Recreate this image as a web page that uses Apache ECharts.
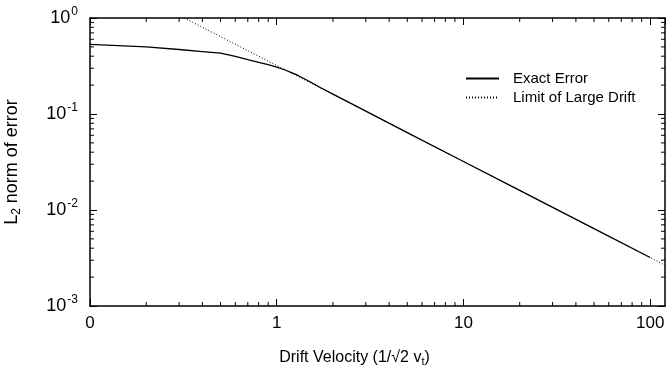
<!DOCTYPE html>
<html>
<head>
<meta charset="utf-8">
<script src="https://cdn.jsdelivr.net/npm/echarts@6/dist/echarts.min.js"></script>
<style>
  html, body { margin: 0; padding: 0; background: #fff; }
  #chart { width: 666px; height: 369px; }
</style>
</head>
<body>
<div id="chart"></div>
<script>
// drift velocity (x) and L2 error (y)
const exactV = [0.1, 0.2, 0.3, 0.4, 0.5, 0.6, 0.7, 0.8, 0.9, 1.0, 1.1, 1.2, 1.3, 1.5, 1.7, 2, 3, 5, 10, 20, 50, 100]
const exactErr = [0.53, 0.5, 0.47, 0.447, 0.43, 0.398, 0.368, 0.345, 0.326, 0.308, 0.289, 0.27, 0.252, 0.218, 0.19, 0.161, 0.107, 0.064, 0.032, 0.016, 0.0064, 0.0032]
const limitV = [0.32, 120]
const limitErr = [1.0, 0.00266]

// axis ranges and minor tick values
const xMin = 0.1, xMax = 120
const yMin = 0.001, yMax = 1
const xMinor = [0.2, 0.3, 0.4, 0.5, 0.6, 0.7, 0.8, 0.9, 2, 3, 4, 5, 6, 7, 8, 9, 20, 30, 40, 50, 60, 70, 80, 90]
const yMinor = [0.002, 0.003, 0.004, 0.005, 0.006, 0.007, 0.008, 0.009,
  0.02, 0.03, 0.04, 0.05, 0.06, 0.07, 0.08, 0.09,
  0.2, 0.3, 0.4, 0.5, 0.6, 0.7, 0.8, 0.9]

const font = 'Liberation Sans, Arial, Helvetica, sans-serif'
const chart = echarts.init(document.getElementById('chart'))

const zip = (a, b) => a.map((v, i) => [v, b[i]])

const minorX = (params, api) => {
  const cs = params.coordSys
  const p = api.coord([api.value(0), yMin])
  const st = { stroke: '#000', lineWidth: 1 }
  return { type: 'group', children: [
    { type: 'line', shape: { x1: p[0], y1: cs.y + cs.height, x2: p[0], y2: cs.y + cs.height - 4 }, style: st },
    { type: 'line', shape: { x1: p[0], y1: cs.y, x2: p[0], y2: cs.y + 4 }, style: st }
  ] }
}
const minorY = (params, api) => {
  const cs = params.coordSys
  const p = api.coord([xMin, api.value(1)])
  const st = { stroke: '#000', lineWidth: 1 }
  return { type: 'group', children: [
    { type: 'line', shape: { x1: cs.x, y1: p[1], x2: cs.x + 4, y2: p[1] }, style: st },
    { type: 'line', shape: { x1: cs.x + cs.width, y1: p[1], x2: cs.x + cs.width - 4, y2: p[1] }, style: st }
  ] }
}

const axisCommon = {
  axisLine: { show: true, lineStyle: { color: '#000', width: 1.5 } },
  axisTick: { show: true, inside: true, length: 7, lineStyle: { color: '#000', width: 1 } },
  splitLine: { show: false }
}

chart.setOption({
  animation: false,
  backgroundColor: '#fff',
  grid: { left: 90, right: 1, top: 18, bottom: 63, containLabel: false, outerBoundsMode: 'none' },
  legend: {
    orient: 'vertical',
    left: 460,
    top: 66,
    itemWidth: 33,
    itemHeight: 10,
    itemGap: 4,
    data: ['Exact Error', 'Limit of Large Drift'],
    itemStyle: { opacity: 0 },
    textStyle: { fontFamily: font, fontSize: 15, color: '#000', padding: [0, 0, 0, 9] }
  },
  xAxis: [
    {
      type: 'log', logBase: 10, min: xMin, max: xMax, position: 'bottom',
      ...axisCommon,
      axisLabel: {
        fontFamily: font, fontSize: 17, color: '#000', margin: 9,
        formatter: v => Math.round(Math.log10(v)) === -1 ? '0' : String(Math.round(v))
      },
      name: '{a|Drift Velocity (1/√2 v}{s|t}{a|)}',
      nameLocation: 'middle',
      nameGap: 42,
      nameTextStyle: {
        padding: [0, 46, 0, 0],
        rich: {
          a: { fontFamily: font, fontSize: 16, color: '#000' },
          s: { fontFamily: font, fontSize: 11, color: '#000', padding: [8, 0, 0, 0] }
        }
      }
    },
    {
      type: 'log', logBase: 10, min: xMin, max: xMax, position: 'top',
      ...axisCommon,
      axisLabel: { show: false }
    }
  ],
  yAxis: [
    {
      type: 'log', logBase: 10, min: yMin, max: yMax, position: 'left',
      ...axisCommon,
      axisLabel: {
        margin: 12,
        formatter: v => '{b|10}{s|' + Math.round(Math.log10(v)) + '}',
        rich: {
          b: { fontFamily: font, fontSize: 18, color: '#000' },
          s: { fontFamily: font, fontSize: 12, color: '#000', padding: [0, 0, 12, 1] }
        }
      },
      name: '{a|L}{s|2}{a| norm of error}',
      nameLocation: 'middle',
      nameRotate: 90,
      nameGap: 67,
      nameTextStyle: {
        rich: {
          a: { fontFamily: font, fontSize: 18, color: '#000' },
          s: { fontFamily: font, fontSize: 12, color: '#000', padding: [9, 0, 0, 0] }
        }
      }
    },
    {
      type: 'log', logBase: 10, min: yMin, max: yMax, position: 'right',
      ...axisCommon,
      axisLabel: { show: false }
    }
  ],
  series: [
    {
      name: 'Exact Error', type: 'line', symbol: 'none',
      lineStyle: { color: '#000', width: 1.3, type: 'solid' },
      itemStyle: { color: '#000' },
      data: zip(exactV, exactErr)
    },
    {
      name: 'Limit of Large Drift', type: 'line', symbol: 'none',
      lineStyle: { color: '#000', width: 1, type: [1, 2] },
      itemStyle: { color: '#000' },
      data: zip(limitV, limitErr)
    },
    {
      type: 'custom', renderItem: minorX, silent: true, clip: false,
      data: xMinor.map(v => [v, yMin])
    },
    {
      type: 'custom', renderItem: minorY, silent: true, clip: false,
      data: yMinor.map(v => [xMin, v])
    }
  ]
})
</script>
</body>
</html>
